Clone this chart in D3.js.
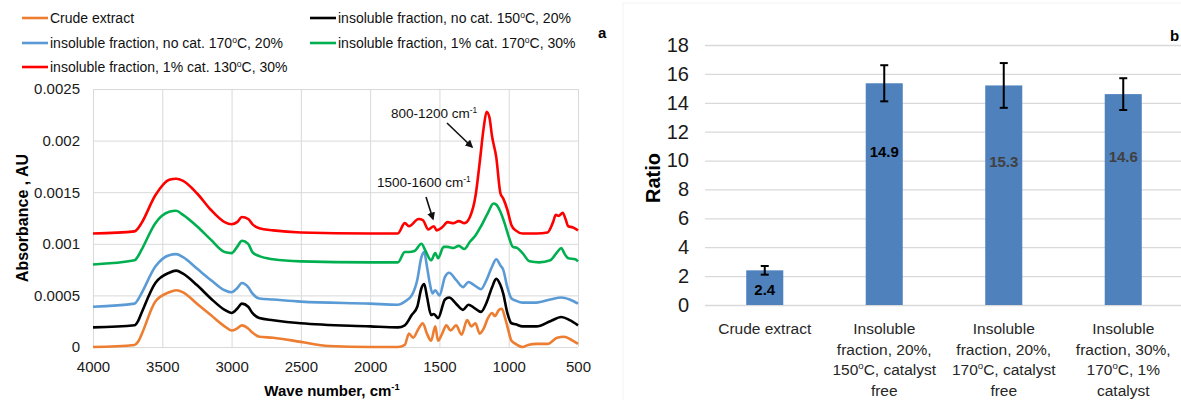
<!DOCTYPE html>
<html>
<head>
<meta charset="utf-8">
<script src="https://cdn.jsdelivr.net/npm/d3@7/dist/d3.min.js"></script>
<style>
  body { margin: 0; background: #fff; }
  svg { font-family: "Liberation Sans", Arial, sans-serif; }
</style>
</head>
<body>
<svg id="chart" width="1181" height="400"></svg>
<script>
// ---- panel a : FTIR spectra, [wave number cm-1, absorbance AU]
const crudeExtract = [
  [4000, 0], [3700, 0.00002], [3675, 0.00005], [3650, 0.00012], [3550, 0.00044], [3450, 0.00053], [3400, 0.00055],
  [3350, 0.00053], [3250, 0.00042], [3150, 0.00031], [3050, 0.0002], [3000, 0.00016], [2960, 0.00018],
  [2925, 0.00021], [2880, 0.00018], [2850, 0.00014], [2800, 0.0001], [2700, 0.00009], [2500, 0.00005],
  [2300, 0.00001], [2000, 0], [1800, 0], [1750, 0.00002], [1720, 0.00013], [1690, 0.00009],
  [1650, 0.00018], [1620, 0.00023], [1590, 0.00013], [1560, 0.00006], [1530, 0.0002], [1510, 0.00006],
  [1480, 0.00013], [1450, 0.00021], [1420, 0.00016], [1380, 0.00021], [1340, 0.00012], [1300, 0.00026],
  [1270, 0.0002], [1240, 0.00023], [1210, 0.00013], [1180, 0.00018], [1150, 0.00028], [1120, 0.00033],
  [1100, 0.0003], [1070, 0.00036], [1050, 0.00037], [1030, 0.0003], [1010, 0.0002], [980, 0.00006],
  [950, 0.00003], [900, 0], [860, 0.00002], [800, 0.00003], [720, 0.00003], [650, 0.00009],
  [600, 0.0001], [550, 0.00007], [500, 0.00003]
];
const noCat150 = [
  [4000, 0.00019], [3700, 0.00021], [3675, 0.00025], [3650, 0.00033], [3550, 0.00062], [3450, 0.00072], [3400, 0.00074],
  [3350, 0.00071], [3250, 0.0006], [3150, 0.00047], [3050, 0.00036], [3000, 0.00033], [2960, 0.00037],
  [2925, 0.00042], [2880, 0.00039], [2850, 0.00033], [2800, 0.00028], [2700, 0.00026], [2500, 0.00023],
  [2000, 0.0002], [1800, 0.00019], [1750, 0.00021], [1700, 0.00031], [1660, 0.00039], [1630, 0.00057],
  [1610, 0.00061], [1590, 0.00049], [1560, 0.00031], [1540, 0.00032], [1510, 0.00028], [1460, 0.00046],
  [1430, 0.00048], [1380, 0.00042], [1330, 0.00036], [1290, 0.00041], [1250, 0.00038], [1200, 0.00034],
  [1160, 0.00043], [1120, 0.00058], [1090, 0.00066], [1060, 0.0006], [1040, 0.00052], [1010, 0.00033],
  [980, 0.00023], [950, 0.00022], [900, 0.0002], [800, 0.0002], [700, 0.00025], [620, 0.00029],
  [560, 0.00026], [500, 0.00021]
];
const noCat170 = [
  [4000, 0.00039], [3700, 0.00042], [3675, 0.00046], [3650, 0.00052], [3550, 0.00078], [3450, 0.00089], [3400, 0.0009],
  [3350, 0.00087], [3250, 0.00076], [3150, 0.00065], [3050, 0.00055], [3000, 0.00053], [2960, 0.00057],
  [2925, 0.00062], [2880, 0.00058], [2850, 0.00052], [2800, 0.00047], [2700, 0.00046], [2500, 0.00044],
  [2000, 0.00042], [1800, 0.00041], [1750, 0.00044], [1700, 0.0005], [1660, 0.00065], [1630, 0.00087],
  [1610, 0.00092], [1590, 0.00078], [1570, 0.00062], [1550, 0.00052], [1530, 0.00055], [1500, 0.0005],
  [1460, 0.00068], [1430, 0.00072], [1380, 0.00065], [1330, 0.00058], [1290, 0.00063], [1250, 0.0006],
  [1200, 0.00056], [1160, 0.00065], [1120, 0.00078], [1090, 0.00085], [1060, 0.00079], [1040, 0.00075],
  [1010, 0.00058], [980, 0.00047], [950, 0.00045], [900, 0.00043], [800, 0.00043], [700, 0.00046],
  [620, 0.00048], [560, 0.00046], [500, 0.00042]
];
const cat170 = [
  [4000, 0.0008], [3700, 0.00084], [3675, 0.00088], [3650, 0.00094], [3550, 0.0012], [3450, 0.00131], [3400, 0.00132],
  [3350, 0.00128], [3250, 0.00117], [3150, 0.00104], [3050, 0.00092], [3000, 0.00091], [2960, 0.00097],
  [2925, 0.00103], [2880, 0.001], [2850, 0.00092], [2800, 0.00088], [2700, 0.00085], [2500, 0.00083],
  [2000, 0.00082], [1800, 0.00082], [1750, 0.00092], [1720, 0.00092], [1680, 0.00093], [1630, 0.001],
  [1600, 0.00093], [1560, 0.00084], [1530, 0.00091], [1510, 0.00086], [1470, 0.00097], [1440, 0.00097],
  [1400, 0.00096], [1360, 0.00098], [1320, 0.00095], [1280, 0.00102], [1240, 0.00108], [1200, 0.00117],
  [1150, 0.0013], [1110, 0.00139], [1090, 0.00138], [1060, 0.00131], [1030, 0.0012], [1000, 0.00107],
  [970, 0.00097], [940, 0.00096], [900, 0.00091], [850, 0.00083], [780, 0.00082], [700, 0.00084],
  [650, 0.00092], [620, 0.00096], [600, 0.00091], [570, 0.00086], [520, 0.00085], [500, 0.00083]
];
const cat130 = [
  [4000, 0.0011], [3700, 0.00112], [3675, 0.00115], [3650, 0.0012], [3550, 0.00147], [3450, 0.00162], [3400, 0.00163],
  [3350, 0.00161], [3250, 0.00149], [3150, 0.00133], [3050, 0.00121], [3000, 0.00119], [2960, 0.00121],
  [2925, 0.00126], [2880, 0.00124], [2850, 0.00119], [2800, 0.00115], [2700, 0.00113], [2500, 0.00111],
  [2000, 0.0011], [1800, 0.0011], [1750, 0.0012], [1720, 0.00117], [1650, 0.00124], [1620, 0.00123],
  [1580, 0.00114], [1540, 0.00117], [1520, 0.00113], [1480, 0.00116], [1440, 0.00121], [1400, 0.0012],
  [1360, 0.00122], [1320, 0.0012], [1280, 0.00126], [1240, 0.00146], [1210, 0.00178], [1180, 0.00213],
  [1160, 0.00228], [1140, 0.00223], [1120, 0.00204], [1090, 0.00184], [1060, 0.00149], [1040, 0.00144],
  [1010, 0.00133], [980, 0.00118], [950, 0.00113], [900, 0.0011], [800, 0.0011], [720, 0.00111],
  [680, 0.00121], [660, 0.00128], [640, 0.00127], [610, 0.0013], [590, 0.00124], [570, 0.00117],
  [540, 0.00116], [500, 0.00113]
];
const spectraNames = [
  "Crude extract",
  "insoluble fraction, no cat. 150°C, 20%",
  "insoluble fraction, no cat. 170°C, 20%",
  "insoluble fraction, 1% cat. 170°C, 30%",
  "insoluble fraction, 1% cat. 130°C, 30%"
];
const spectraColors = ["#ED7D31", "#000000", "#5B9BD5", "#00B050", "#FF0000"];
const waveTicks = [4000, 3500, 3000, 2500, 2000, 1500, 1000, 500];
const absTicks = [0, 0.0005, 0.001, 0.0015, 0.002, 0.0025];

// ---- panel b : ratio bars
const barCategories = ["crude", "ins150", "ins170", "ins170cat"];
const barLabels = [
  ["Crude extract"],
  ["Insoluble", "fraction, 20%,", "150°C, catalyst", "free"],
  ["Insoluble", "fraction, 20%,", "170°C, catalyst", "free"],
  ["Insoluble", "fraction, 30%,", "170°C, 1%", "catalyst"]
];
const barValues = [2.4, 15.35, 15.2, 14.6];
const barErrors = [0.3, 1.25, 1.55, 1.1];
const barValueText = ["2.4", "14.9", "15.3", "14.6"];
const ratioTicks = [0, 2, 4, 6, 8, 10, 12, 14, 16, 18];

const svg = d3.select("#chart");

// text with "°" drawn as a raised small "o" and "^-1" as a superscript
function richText(sel, str, fs) {
  const parts = str.split(/(°|\^-1)/);
  let l_back = 0;
  parts.forEach(p => {
    if (p === "°" || p === "^-1") {
      sel.append("tspan").attr("dy", -fs * 0.38).attr("font-size", fs * 0.62).text(p === "°" ? "o" : "-1");
      l_back = fs * 0.38;
    } else if (p.length) {
      const t = sel.append("tspan").text(p);
      if (l_back) t.attr("dy", l_back);
      l_back = 0;
    }
  });
  return sel;
}

function spectra() {
  const l_x = d3.scaleLinear().domain([4000, 500]).range([93, 578]),
        l_y = d3.scaleLinear().domain([0, 0.0025]).range([347, 89]),
        l_g = svg.append("g");

  const l_xAxis = l_g.append("g").attr("transform", "translate(0,347)")
      .call(d3.axisBottom(l_x).tickValues(waveTicks).tickSize(-(347 - 89)).tickPadding(14).tickFormat(d3.format("d")));
  const l_yAxis = l_g.append("g").attr("transform", "translate(93,0)")
      .call(d3.axisLeft(l_y).tickValues(absTicks).tickSize(-(578 - 93)).tickPadding(13)
        .tickFormat(d => d === 0 ? "0" : String(+d.toFixed(4))));
  [l_xAxis, l_yAxis].forEach(a => {
    a.select(".domain").remove();
    a.selectAll(".tick line").attr("stroke", "#d9d9d9").attr("stroke-width", 1);
    a.selectAll(".tick text").attr("font-size", 15).attr("fill", "#1a1a1a").attr("font-family", "Liberation Sans, Arial, sans-serif");
  });

  const l_line = d3.line().x(d => l_x(d[0])).y(d => l_y(d[1])).curve(d3.curveMonotoneX);
  const l_series = [crudeExtract, noCat150, noCat170, cat170, cat130];
  l_g.selectAll(".spec").data(l_series).enter().append("path")
      .attr("class", "spec")
      .attr("fill", "none")
      .attr("stroke", (d, i) => spectraColors[i])
      .attr("stroke-width", 2.6)
      .attr("stroke-linejoin", "round")
      .attr("d", l_line);

  // annotations
  richText(l_g.append("text").attr("x", 391).attr("y", 118).attr("font-size", 13.5).attr("fill", "#111"), "800-1200 cm^-1", 13.5);
  richText(l_g.append("text").attr("x", 377).attr("y", 187).attr("font-size", 13.5).attr("fill", "#111"), "1500-1600 cm^-1", 13.5);
  const l_defs = svg.append("defs");
  l_defs.append("marker").attr("id", "arr").attr("viewBox", "0 0 10 10").attr("refX", 8).attr("refY", 5)
      .attr("markerWidth", 5).attr("markerHeight", 5).attr("orient", "auto")
      .append("path").attr("d", "M0,0L10,5L0,10z").attr("fill", "#111");
  l_g.append("line").attr("x1", 447).attr("y1", 123).attr("x2", 472).attr("y2", 147)
      .attr("stroke", "#111").attr("stroke-width", 1.6).attr("marker-end", "url(#arr)");
  l_g.append("line").attr("x1", 426).attr("y1", 197).attr("x2", 433).attr("y2", 219)
      .attr("stroke", "#111").attr("stroke-width", 1.6).attr("marker-end", "url(#arr)");

  // axis titles
  richText(l_g.append("text").attr("x", 332).attr("y", 396).attr("text-anchor", "middle")
      .attr("font-size", 15).attr("font-weight", "bold"), "Wave number, cm^-1", 15);
  l_g.append("text").attr("transform", "translate(28,218) rotate(-90)").attr("text-anchor", "middle")
      .attr("font-size", 16).attr("font-weight", "bold").text("Absorbance , AU");

  // legend
  const l_legendPos = [[22, 18], [310, 18], [22, 43], [310, 43], [22, 67]];
  const l_order = [0, 1, 2, 3, 4];
  const l_leg = l_g.selectAll(".leg").data(l_order).enter().append("g")
      .attr("class", "leg")
      .attr("transform", i => "translate(" + l_legendPos[i][0] + "," + l_legendPos[i][1] + ")");
  l_leg.append("line").attr("x1", 0).attr("x2", 26).attr("y1", 0).attr("y2", 0)
      .attr("stroke", i => spectraColors[i]).attr("stroke-width", 2.6);
  l_leg.append("text").attr("x", 28).attr("y", 5).attr("font-size", 14).attr("fill", "#111")
      .each(function (i) { richText(d3.select(this), spectraNames[i], 14); });

  l_g.append("text").attr("x", 598).attr("y", 38).attr("font-size", 15).attr("font-weight", "bold").text("a");
}

function ratios() {
  const l_x = d3.scaleBand().domain(barCategories).range([705, 1183]).paddingInner(0.69).paddingOuter(0.345),
        l_y = d3.scaleLinear().domain([0, 18]).range([305, 45]),
        l_g = svg.append("g");

  l_g.append("rect").attr("x", 623).attr("y", 3).attr("width", 600).attr("height", 420)
      .attr("fill", "none").attr("stroke", "#f3f3f3");

  const l_yAxis = l_g.append("g").attr("transform", "translate(705,0)")
      .call(d3.axisLeft(l_y).tickValues(ratioTicks).tickSize(-(1183 - 705)).tickPadding(16));
  l_yAxis.select(".domain").remove();
  l_yAxis.selectAll(".tick line").attr("stroke", "#d9d9d9").attr("stroke-width", 1.3);
  l_yAxis.selectAll(".tick text").attr("font-size", 20).attr("fill", "#1a1a1a").attr("font-family", "Liberation Sans, Arial, sans-serif");

  l_g.selectAll(".bar").data(barCategories).enter().append("rect")
      .attr("class", "bar")
      .attr("x", d => l_x(d))
      .attr("y", (d, i) => l_y(barValues[i]))
      .attr("width", l_x.bandwidth())
      .attr("height", (d, i) => l_y(0) - l_y(barValues[i]))
      .attr("fill", "#4F81BD");

  const l_err = l_g.selectAll(".err").data(barCategories).enter().append("g").attr("class", "err")
      .attr("stroke", "#000").attr("stroke-width", 2);
  l_err.append("line")
      .attr("x1", d => l_x(d) + l_x.bandwidth() / 2).attr("x2", d => l_x(d) + l_x.bandwidth() / 2)
      .attr("y1", (d, i) => l_y(barValues[i] + barErrors[i])).attr("y2", (d, i) => l_y(barValues[i] - barErrors[i]));
  [1, -1].forEach(s => {
    l_err.append("line")
        .attr("x1", d => l_x(d) + l_x.bandwidth() / 2 - 4).attr("x2", d => l_x(d) + l_x.bandwidth() / 2 + 4)
        .attr("y1", (d, i) => l_y(barValues[i] + s * barErrors[i])).attr("y2", (d, i) => l_y(barValues[i] + s * barErrors[i]));
  });

  const l_textY = [295, 157, 167, 162];
  const l_textColor = ["#000", "#000", "#404040", "#404040"];
  l_g.selectAll(".val").data(barCategories).enter().append("text")
      .attr("class", "val")
      .attr("x", d => l_x(d) + l_x.bandwidth() / 2)
      .attr("y", (d, i) => l_textY[i])
      .attr("text-anchor", "middle").attr("font-size", 15).attr("font-weight", "bold")
      .attr("fill", (d, i) => l_textColor[i])
      .text((d, i) => barValueText[i]);

  barCategories.forEach((c, i) => {
    barLabels[i].forEach((ln, j) => {
      richText(l_g.append("text").attr("x", l_x(c) + l_x.bandwidth() / 2).attr("y", 334 + j * 20.5)
          .attr("text-anchor", "middle").attr("font-size", 15.5).attr("fill", "#262626"), ln, 15.5);
    });
  });

  l_g.append("text").attr("transform", "translate(660,178) rotate(-90)").attr("text-anchor", "middle")
      .attr("font-size", 20).attr("font-weight", "bold").text("Ratio");
  l_g.append("text").attr("x", 1170).attr("y", 41).attr("font-size", 15).attr("font-weight", "bold").text("b");
}

spectra();
ratios();
</script>
</body>
</html>
